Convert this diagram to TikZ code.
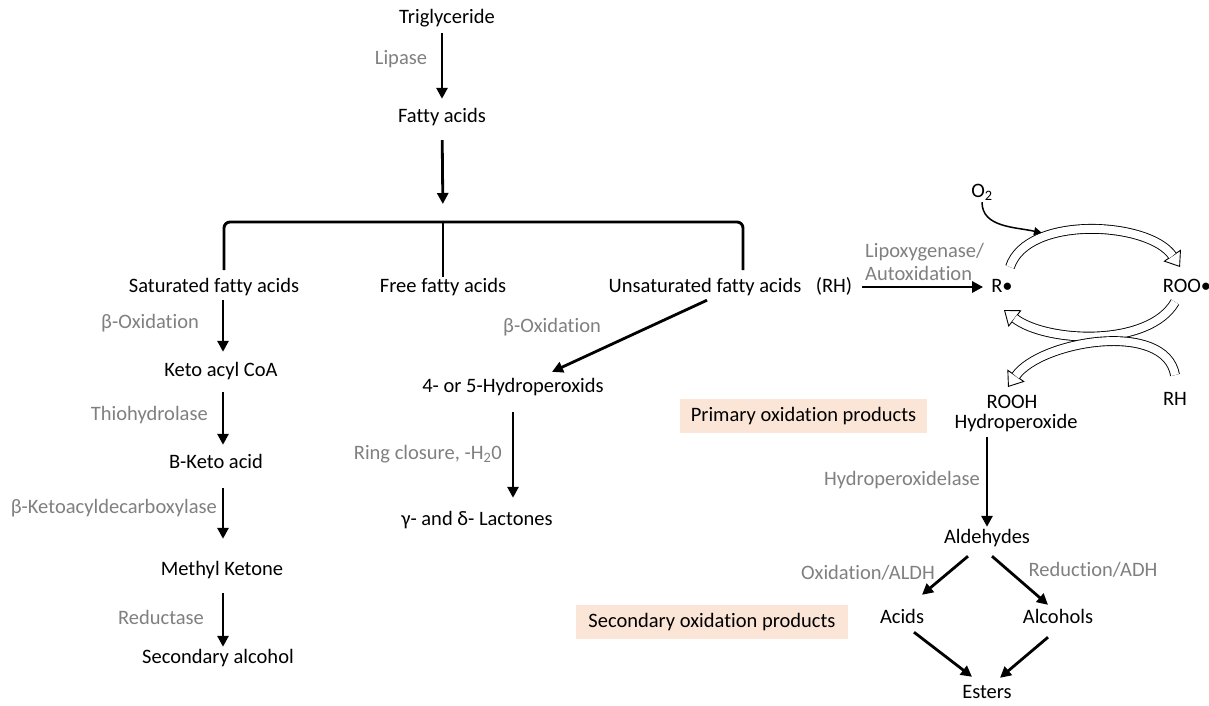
\documentclass[tikz,border=0pt]{standalone}
\usepackage{fontspec}
\setmainfont{Carlito}[Ligatures={NoCommon}]
\usetikzlibrary{arrows.meta, calc, positioning}
\definecolor{cLab}{RGB}{128,128,128}
\definecolor{cBox}{RGB}{251,229,214}

\begin{document}
\begin{tikzpicture}[x=1pt, y=1pt,
font=\fontsize{20.5}{23}\selectfont,
txt/.style={inner sep=0pt, text height=14pt, text depth=4pt},
lab/.style={inner sep=0pt, text=cLab},
prod/.style={rectangle, fill=cBox, minimum width=#1, minimum height=34pt, inner sep=0pt, text height=14pt, text depth=4pt},
post/.style={-{Triangle[length=11pt,width=11pt]}, line width=2.8pt},
thinpost/.style={-{Triangle[length=8pt,width=8pt]}, line width=1.5pt},
brk/.style={line width=2.9pt, rounded corners=6pt},
hollowhead/.style={line width=0.9pt, -{Triangle[open, fill=white, length=14pt, width=21pt]}},
hollow/.style={line width=0.9pt, double=white, double distance=8pt, shorten >=13.5pt}]

\fill[white] (0,0) rectangle (1209,-705);
\useasboundingbox (0,0) rectangle (1209,-705);

% main trunk
\node[txt] (trig) at (447,-18) {Triglyceride};
\node[txt] (fatty) at (442,-117) {Fatty acids};
\node[lab] (lipase) at (401,-59) {Lipase};
\draw[post, shorten <=6pt, shorten >=9pt] (trig.south -| fatty) -- (fatty);

\coordinate (brtop) at (443,-222);
\coordinate (brl) at (224,-270);
\coordinate (brr) at (743,-270);
\coordinate (brm) at (443,-277);
\draw[post, shorten <=14pt, shorten >=18pt] (fatty) -- (brtop);
\draw[brk] (brl) |- (brtop) -| (brr);
\draw[brk] (brtop) -- (brm);

\node[txt] (sat) at (214,-287) {Saturated fatty acids};
\node[txt] (free) at (443,-287) {Free fatty acids};
\node[txt] (unsat) at (705,-287) {Unsaturated fatty acids};
\node[txt] (rh) at (834,-287) {(RH)};

% saturated branch
\coordinate (lcol) at (223,0);
\node[txt] (keto) at (221,-371) {Keto acyl CoA};
\node[txt] (bketo) at (216,-463) {B-Keto acid};
\node[txt] (methyl) at (222,-570) {Methyl Ketone};
\node[txt] (secalc) at (218,-658) {Secondary alcohol};

\node[lab] (boxl) at (150,-323) {β-Oxidation};
\node[lab, anchor=east] (thio) at (208,-415) {Thiohydrolase};
\node[lab, anchor=east] (decarb) at (217,-508) {β-Ketoacyldecarboxylase};
\node[lab] (reduct) at (161,-617) {Reductase};

\draw[post, shorten <=4pt, shorten >=10pt] (sat.south -| lcol) -- (keto.north -| lcol);
\draw[post, shorten <=12pt, shorten >=9pt] (keto.south -| lcol) -- (bketo.north -| lcol);
\draw[post, shorten <=16pt, shorten >=22pt] (bketo.south -| lcol) -- (methyl.north -| lcol);
\draw[post, shorten <=14pt, shorten >=2pt] (methyl.south -| lcol) -- (secalc.north -| lcol);

% unsaturated branch
\node[txt] (hperox) at (513,-387) {4- or 5-Hydroperoxids};
\node[txt] (lact) at (477,-520) {γ- and δ- Lactones};
\node[lab] (boxm) at (552,-327) {β-Oxidation};
\node[lab, anchor=east] (ring) at (502,-454) {Ring closure, -H\textsubscript{2}0};

\draw[post] ($(unsat.south)+(2,-4)$) -- ($(hperox.north)+(39,6)$);
\draw[post, shorten <=16pt, shorten >=13pt] (hperox.south) -- (hperox.south |- lact.north);

% oxidation cycle
\node[txt] (otwo) at (982,-192) {O\textsubscript{2}};
\node[txt] (rdot) at (1002,-287) {R•};
\node[txt] (roodot) at (1187,-287) {ROO•};
\node[txt] (rooh) at (1012,-403) {ROOH};
\node[txt] (hydro) at (1016,-423) {Hydroperoxide};
\node[txt] (rhb) at (1175,-400) {RH};
\node[lab, align=left, anchor=west] (lipox) at (865,-262) {Lipoxygenase/\\Autoxidation};
\coordinate (o2in) at (1042,-233);

\draw[post, shorten <=10pt, shorten >=8pt] (rh) -- (rdot);
\draw[thinpost, shorten <=1pt] (otwo) to[out=-90, in=167] (o2in);

\draw[hollowhead] ($(rdot)+(8,20)$) to[out=72, in=124, looseness=0.83] ($(roodot)+(-7,20)$);
\draw[hollow] ($(rdot)+(8,20)$) to[out=72, in=124, looseness=0.83] ($(roodot)+(-7,20)$);
\draw[hollowhead] ($(roodot)+(-12,-15)$) to[out=240, in=-38, looseness=0.79] ($(rdot)+(2,-23)$);
\draw[hollow] ($(roodot)+(-12,-15)$) to[out=240, in=-38, looseness=0.79] ($(rdot)+(2,-23)$);
\draw[hollowhead] ($(rhb)+(0,25)$) to[out=100, in=55, looseness=0.86] ($(rooh)+(-4,16)$);
\draw[hollow] ($(rhb)+(0,25)$) to[out=100, in=55, looseness=0.86] ($(rooh)+(-4,16)$);

% products
\node[prod=247pt] (primbox) at (803.5,-416) {Primary oxidation products};
\node[prod=272pt] (secbox) at (712,-622) {Secondary oxidation products};

\node[txt] (ald) at (987,-538) {Aldehydes};
\node[txt] (acids) at (902,-618) {Acids};
\node[txt] (alc) at (1058,-618) {Alcohols};
\node[txt] (esters) at (987,-693) {Esters};

\node[lab, anchor=east] (hpl) at (980,-480) {Hydroperoxidelase};
\node[lab] (oxaldh) at (868,-573) {Oxidation/ALDH};
\node[lab] (redadh) at (1093,-570) {Reduction/ADH};

\draw[post, shorten <=5pt, shorten >=2pt] (hydro.south -| ald) -- (ald);
\draw[post] ($(ald.south)+(-19,-9)$) -- ($(acids.north)+(20,14)$);
\draw[post] ($(ald.south)+(5,-9)$) -- ($(alc.north)+(-10,4)$);
\draw[post] ($(acids.south)+(12,-5)$) -- ($(esters.north)+(-15,7)$);
\draw[post] ($(alc.south)+(-10,-10)$) -- ($(esters.north)+(13,6)$);
\end{tikzpicture}
\end{document}
